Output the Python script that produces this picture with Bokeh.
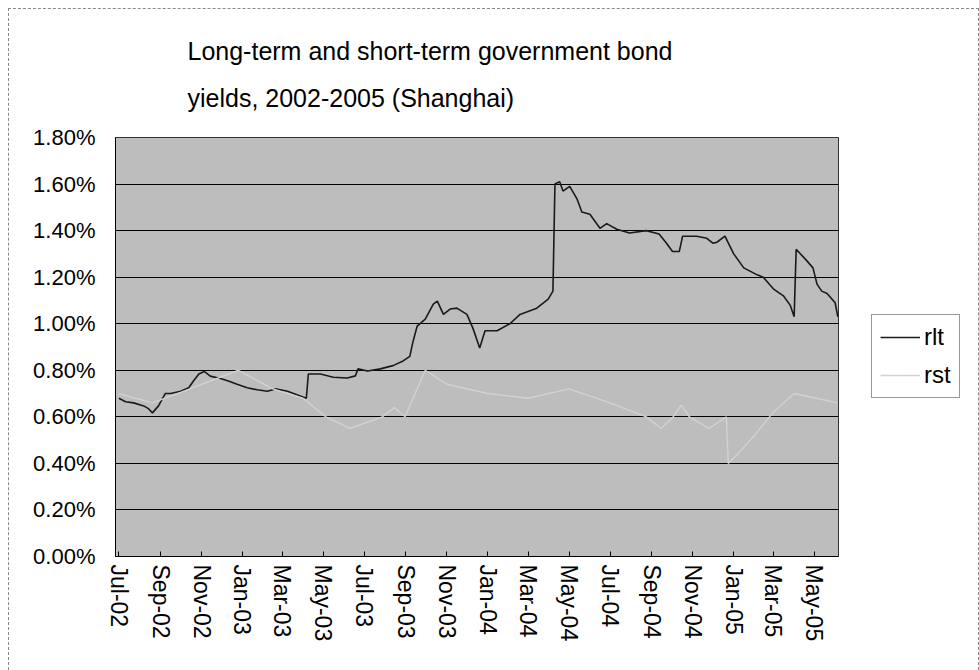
import pandas as pd
from bokeh.plotting import figure
from bokeh.layouts import row
from bokeh.models import (Range1d, FixedTicker, DatetimeTickFormatter, PrintfTickFormatter,
                          Legend, LegendItem, Title, ColumnDataSource)
from bokeh.embed import file_html
from bokeh.resources import INLINE

# Long-term government bond yield (rlt), % per period
rlt_dates = [
    "2002-07-01", "2002-07-11", "2002-07-23", "2002-08-07", "2002-08-14", "2002-08-20",
    "2002-08-29", "2002-09-08", "2002-09-16", "2002-10-01", "2002-10-13", "2002-10-20",
    "2002-10-28", "2002-11-05", "2002-11-14", "2002-11-29", "2002-12-11", "2002-12-24",
    "2003-01-08", "2003-01-23", "2003-02-07", "2003-02-19", "2003-03-09", "2003-03-24",
    "2003-04-06", "2003-04-09", "2003-04-27", "2003-05-16", "2003-06-06", "2003-06-18",
    "2003-06-22", "2003-07-06", "2003-07-25", "2003-08-13", "2003-08-28", "2003-09-07",
    "2003-09-12", "2003-09-18", "2003-09-30", "2003-10-12", "2003-10-18", "2003-10-27",
    "2003-11-06", "2003-11-16", "2003-12-01", "2003-12-10", "2003-12-20", "2003-12-28",
    "2004-01-15", "2004-02-03", "2004-02-18", "2004-03-14", "2004-03-31", "2004-04-07",
    "2004-04-10", "2004-04-17", "2004-04-22", "2004-05-02", "2004-05-13", "2004-05-20",
    "2004-06-01", "2004-06-16", "2004-06-26", "2004-07-11", "2004-07-30", "2004-08-24",
    "2004-09-12", "2004-09-23", "2004-10-02", "2004-10-12", "2004-10-17", "2004-11-07",
    "2004-11-22", "2004-12-01", "2004-12-07", "2004-12-19", "2005-01-01", "2005-01-16",
    "2005-02-05", "2005-02-14", "2005-03-01", "2005-03-16", "2005-03-26", "2005-04-01",
    "2005-04-04", "2005-04-20", "2005-04-29", "2005-05-05", "2005-05-12", "2005-05-20",
    "2005-06-01", "2005-06-05",
]
rlt_values = [
    0.68, 0.665, 0.66, 0.647, 0.635, 0.617,
    0.647, 0.70, 0.70, 0.71, 0.725, 0.754,
    0.784, 0.795, 0.775, 0.765, 0.754, 0.74,
    0.725, 0.716, 0.71, 0.72, 0.71, 0.694,
    0.68, 0.784, 0.784, 0.77, 0.767, 0.776,
    0.806, 0.797, 0.806, 0.82, 0.84, 0.86,
    0.926, 0.99, 1.02, 1.084, 1.097, 1.04,
    1.063, 1.067, 1.04, 0.98, 0.896, 0.97,
    0.97, 1.00, 1.04, 1.067, 1.106, 1.14,
    1.60, 1.61, 1.57, 1.59, 1.535, 1.48,
    1.47, 1.41, 1.43, 1.406, 1.39, 1.40,
    1.385, 1.346, 1.31, 1.31, 1.376, 1.376,
    1.367, 1.346, 1.35, 1.376, 1.30, 1.24,
    1.21, 1.20, 1.15, 1.12, 1.08, 1.03,
    1.32, 1.27, 1.24, 1.17, 1.14, 1.13,
    1.09, 1.03,
]

# Short-term government bond yield (rst), % per period
rst_dates = [
    "2002-07-01", "2002-08-20", "2002-10-15", "2002-12-26", "2003-02-15", "2003-04-01",
    "2003-05-05", "2003-06-10", "2003-07-28", "2003-08-15", "2003-08-31", "2003-09-30",
    "2003-11-01", "2004-01-01", "2004-03-01", "2004-05-01", "2004-07-01", "2004-08-24",
    "2004-09-15", "2004-10-03", "2004-10-15", "2004-10-27", "2004-11-25", "2004-12-21",
    "2004-12-24", "2005-01-10", "2005-02-01", "2005-03-01", "2005-04-01", "2005-06-05",
]
rst_values = [
    0.70, 0.66, 0.72, 0.80, 0.72, 0.68,
    0.60, 0.55, 0.60, 0.64, 0.60, 0.80,
    0.74, 0.70, 0.68, 0.72, 0.66, 0.60,
    0.55, 0.60, 0.65, 0.60, 0.55, 0.60,
    0.40, 0.45, 0.52, 0.62, 0.70, 0.66,
]

month_ticks = [
    "2002-07-01", "2002-09-01", "2002-11-01", "2003-01-01", "2003-03-01", "2003-05-01",
    "2003-07-01", "2003-09-01", "2003-11-01", "2004-01-01", "2004-03-01", "2004-05-01",
    "2004-07-01", "2004-09-01", "2004-11-01", "2005-01-01", "2005-03-01", "2005-05-01",
]
y_ticks = [0.0, 0.2, 0.4, 0.6, 0.8, 1.0, 1.2, 1.4, 1.6, 1.8]

title_lines = ["Long-term and short-term government bond",
               "yields, 2002-2005 (Shanghai)"]

series_names = ["rlt", "rst"]
series_colors = ["#1a1a1a", "#d2d2d2"]
series_widths = [1.6, 1.4]

FONT = "Liberation Sans"

rlt_src = ColumnDataSource(dict(date=pd.to_datetime(rlt_dates), y=rlt_values))
rst_src = ColumnDataSource(dict(date=pd.to_datetime(rst_dates), y=rst_values))
sources = [rlt_src, rst_src]

# ---- main chart -------------------------------------------------------------
p = figure(
    width=846, height=661,
    x_axis_type="datetime",
    x_range=Range1d(pd.Timestamp("2002-06-26"), pd.Timestamp("2005-06-06")),
    y_range=Range1d(0, 1.8),
    output_backend="svg", toolbar_location=None,
    min_border_left=106, min_border_right=17,
    min_border_bottom=114, min_border_top=127,
)
p.title = None

p.background_fill_color = "#bdbdbd"
p.border_fill_color = "white"
p.outline_line_color = "#333333"
p.outline_line_width = 1

p.xgrid.visible = False
p.ygrid.grid_line_color = "black"
p.ygrid.grid_line_width = 1
p.ygrid.ticker = FixedTicker(ticks=y_ticks)

p.yaxis.ticker = FixedTicker(ticks=y_ticks)
p.yaxis.formatter = PrintfTickFormatter(format="%.2f%%")
p.yaxis.major_tick_line_color = None
p.yaxis.minor_tick_line_color = None
p.yaxis.axis_line_color = "black"
p.yaxis.major_label_text_font = FONT
p.yaxis.major_label_text_font_size = "22px"
p.yaxis.major_label_text_color = "black"
p.yaxis.major_label_standoff = 14

tick_ms = [int(pd.Timestamp(d).value // 10**6) for d in month_ticks]
p.xaxis.ticker = FixedTicker(ticks=tick_ms)
fmt = "%b-%y"
p.xaxis.formatter = DatetimeTickFormatter(
    milliseconds=fmt, seconds=fmt, minsec=fmt, minutes=fmt, hourmin=fmt,
    hours=fmt, days=fmt, months=fmt, years=fmt)
p.xaxis.major_label_orientation = "vertical"
p.xaxis.major_label_text_font = FONT
p.xaxis.major_label_text_font_size = "23px"
p.xaxis.major_label_text_color = "black"
p.xaxis.major_label_standoff = 8
p.xaxis.axis_line_color = "black"
p.xaxis.major_tick_line_color = "black"
p.xaxis.major_tick_in = 5
p.xaxis.major_tick_out = 0
p.xaxis.minor_tick_line_color = None

for src, color, width in zip(sources, series_colors, series_widths):
    p.line("date", "y", source=src, line_color=color, line_width=width)

# two-line title, left aligned above the plot area
title = Title(text="\n".join(title_lines), align="left", offset=72, standoff=51,
              text_font=FONT, text_font_size="25px", text_font_style="normal",
              text_color="black", text_line_height=1.67)
p.add_layout(title, "above")

# ---- legend panel on the right ---------------------------------------------
lg = figure(
    width=123, height=661, x_range=(0, 1), y_range=(0, 1),
    output_backend="svg", toolbar_location=None,
    min_border=0, min_border_left=0, min_border_right=0,
    min_border_top=0, min_border_bottom=0,
)
lg.axis.visible = False
lg.grid.visible = False
lg.outline_line_color = None
lg.background_fill_color = "white"
lg.border_fill_color = "white"

# same series, drawn here only to give the legend its glyphs (they fall outside this panel's range)
items = []
for name, src, color, width in zip(series_names, sources, series_colors, series_widths):
    r = lg.line("date", "y", source=src, line_color=color, line_width=width)
    items.append(LegendItem(label=name, renderers=[r]))

legend = Legend(
    items=items, location=(16, 158),
    label_text_font=FONT, label_text_font_size="24px", label_text_color="black",
    glyph_width=40, glyph_height=24, label_standoff=4,
    spacing=10, padding=8, margin=0,
    border_line_color="#333333", border_line_width=1,
    background_fill_color="white",
)
lg.add_layout(legend)

layout = row(p, lg, styles={
    "margin-left": "8px", "margin-top": "8px",
    "border-left": "1px dashed #8a8a8a", "border-top": "1px dashed #8a8a8a",
    "border-right": "1px dashed #8a8a8a",
})

open("out.html", "w").write(file_html(layout, INLINE))
